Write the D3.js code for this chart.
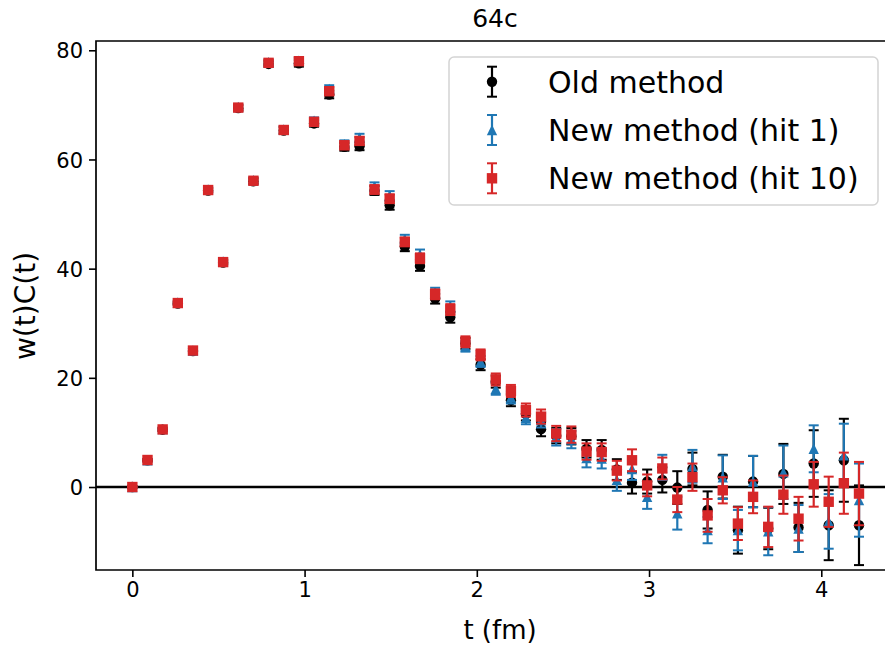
<!DOCTYPE html>
<html>
<head>
<meta charset="utf-8">
<script src="https://cdn.jsdelivr.net/npm/d3@7"></script>
<style>
  body { margin: 0; background: #fff; }
  svg { font-family: "DejaVu Sans", sans-serif; }
</style>
</head>
<body>
<svg id="chart" width="885" height="650"></svg>
<script>
// t (fm) for each timeslice
const tValues = [0, 0.088, 0.176, 0.264, 0.352, 0.440, 0.527, 0.615, 0.703, 0.791,
	0.879, 0.967, 1.055, 1.143, 1.231, 1.319, 1.406, 1.494, 1.582, 1.670,
	1.758, 1.846, 1.934, 2.022, 2.110, 2.198, 2.285, 2.373, 2.461, 2.549,
	2.637, 2.725, 2.813, 2.901, 2.989, 3.077, 3.164, 3.252, 3.340, 3.428,
	3.516, 3.604, 3.692, 3.780, 3.868, 3.956, 4.043, 4.131, 4.219];

// Old method
const oldVal = [0.0, 4.9, 10.5, 33.6, 24.9, 54.3, 41.1, 69.4, 56.0, 77.5,
	65.3, 77.6, 66.6, 71.9, 62.3, 62.4, 54.3, 51.6, 44.0, 40.5,
	34.5, 31.1, 26.3, 22.4, 19.3, 15.9, 13.4, 10.6, 9.4, 9.3,
	7.0, 6.8, 3.2, 0.8, 1.0, 1.3, -0.1, 3.3, -4.2, 1.9,
	-7.9, 1.0, -7.6, 2.4, -7.4, 4.3, -7.0, 4.9, -7.0];
const oldErr = [0.1, 0.2, 0.3, 0.3, 0.4, 0.4, 0.4, 0.5, 0.5, 0.5,
	0.6, 0.6, 0.6, 0.7, 0.7, 0.7, 0.8, 0.8, 0.8, 0.9,
	0.9, 1.0, 1.0, 1.0, 1.1, 1.1, 1.2, 1.3, 1.4, 1.5,
	1.6, 1.8, 1.9, 2.0, 2.2, 2.3, 3.0, 3.0, 3.4, 4.0,
	4.3, 4.7, 3.8, 5.5, 4.5, 6.1, 6.4, 7.6, 7.3];

// New method (hit 1)
const hit1Val = [0.0, 4.9, 10.6, 33.8, 25.0, 54.5, 41.3, 69.6, 56.2, 77.8,
	65.5, 78.1, 67.1, 72.9, 62.8, 64.0, 55.0, 53.4, 45.4, 42.6,
	35.6, 33.0, 25.8, 23.0, 18.0, 16.4, 12.7, 12.2, 9.1, 8.7,
	5.3, 5.2, 1.3, 3.3, -1.8, 3.6, -4.8, 3.8, -7.9, 1.8,
	-7.9, 1.0, -8.1, 2.7, -7.6, 7.0, -6.3, 5.8, -2.4];
const hit1Err = [0.1, 0.2, 0.3, 0.3, 0.4, 0.4, 0.4, 0.5, 0.5, 0.5,
	0.6, 0.6, 0.6, 0.7, 0.7, 0.7, 0.8, 0.8, 0.8, 0.9,
	0.9, 1.0, 1.0, 1.0, 1.1, 1.1, 1.2, 1.3, 1.5, 1.6,
	1.7, 1.8, 2.0, 2.0, 2.2, 2.3, 3.0, 3.0, 2.4, 4.0,
	3.7, 4.7, 4.4, 4.9, 4.3, 4.3, 5.0, 5.8, 6.7];

// New method (hit 10)
const hit10Val = [0.0, 4.95, 10.55, 33.7, 25.0, 54.4, 41.2, 69.5, 56.1, 77.7,
	65.4, 78.0, 66.9, 72.5, 62.6, 63.4, 54.5, 52.8, 44.9, 41.9,
	35.3, 32.5, 26.6, 24.2, 19.7, 17.6, 14.1, 12.9, 9.8, 9.6,
	6.5, 6.4, 3.0, 4.9, 0.3, 3.4, -2.3, 1.8, -5.2, -0.6,
	-6.7, -1.8, -7.3, -1.4, -5.8, 0.5, -2.7, 0.7, -1.2];
const hit10Err = [0.1, 0.2, 0.3, 0.3, 0.4, 0.4, 0.4, 0.5, 0.5, 0.5,
	0.6, 0.6, 0.6, 0.7, 0.7, 0.7, 0.8, 0.8, 0.8, 0.9,
	0.9, 1.0, 1.0, 1.0, 1.1, 1.1, 1.2, 1.3, 1.4, 1.5,
	1.5, 1.6, 1.8, 2.0, 2.0, 2.0, 2.3, 2.5, 3.0, 2.4,
	3.0, 3.0, 3.7, 3.5, 4.0, 4.1, 4.6, 5.6, 5.8];

const xTicks = [0, 1, 2, 3, 4];
const yTicks = [0, 20, 40, 60, 80];

const seriesNames = ["Old method", "New method (hit 1)", "New method (hit 10)"];
const seriesColors = ["#000000", "#1f77b4", "#d62728"];
const seriesShapes = ["circle", "triangle", "square"];
const seriesVals = [oldVal, hit1Val, hit10Val];
const seriesErrs = [oldErr, hit1Err, hit10Err];

const plot = {left: 96, right: 895, top: 41, bottom: 570};
const markerSize = 10.4, capHalf = 5;

const svg = d3.select("#chart");

const xScale = d3.scaleLinear().domain([-0.211, 4.428]).range([plot.left, plot.right]);
const yScale = d3.scaleLinear().domain([-15.2, 81.7]).range([plot.bottom, plot.top]);

// clip for the data area
svg.append("clipPath").attr("id", "clip")
	.append("rect")
	.attr("x", plot.left).attr("y", plot.top)
	.attr("width", plot.right - plot.left).attr("height", plot.bottom - plot.top);

// zero line
svg.append("line")
	.attr("x1", plot.left).attr("x2", plot.right)
	.attr("y1", yScale(0)).attr("y2", yScale(0))
	.attr("stroke", "#000").attr("stroke-width", 2.5);

function markerPath(shape, s) {
	const h = s / 2;
	if (shape === "triangle") return "M0," + (-h) + "L" + h + "," + h + "L" + (-h) + "," + h + "Z";
	if (shape === "square") return "M" + (-h) + "," + (-h) + "h" + s + "v" + s + "h" + (-s) + "Z";
	return d3.arc()({innerRadius: 0, outerRadius: h, startAngle: 0, endAngle: 2 * Math.PI});
}

// draw each series: error bars, caps, markers
const dataG = svg.append("g").attr("clip-path", "url(#clip)");
seriesVals.forEach(function(vals, k) {
	const errs = seriesErrs[k];
	const color = seriesColors[k];
	const rows = vals.map(function(v, i) { return {t: tValues[i], v: v, e: errs[i]}; });
	const g = dataG.append("g").attr("class", "serie");

	g.selectAll("line.bar").data(rows).enter().append("line")
		.attr("class", "bar")
		.attr("x1", function(d) { return xScale(d.t); })
		.attr("x2", function(d) { return xScale(d.t); })
		.attr("y1", function(d) { return yScale(d.v - d.e); })
		.attr("y2", function(d) { return yScale(d.v + d.e); })
		.attr("stroke", color).attr("stroke-width", 2.2);

	[-1, 1].forEach(function(sgn) {
		g.selectAll("line.cap" + sgn).data(rows).enter().append("line")
			.attr("x1", function(d) { return xScale(d.t) - capHalf; })
			.attr("x2", function(d) { return xScale(d.t) + capHalf; })
			.attr("y1", function(d) { return yScale(d.v + sgn * d.e); })
			.attr("y2", function(d) { return yScale(d.v + sgn * d.e); })
			.attr("stroke", color).attr("stroke-width", 2);
	});

	g.selectAll("path.mark").data(rows).enter().append("path")
		.attr("class", "mark")
		.attr("d", markerPath(seriesShapes[k], markerSize))
		.attr("transform", function(d) { return "translate(" + xScale(d.t) + "," + yScale(d.v) + ")"; })
		.attr("fill", color);
});

// axes
const xAxis = d3.axisBottom(xScale).tickValues(xTicks).tickSize(7).tickPadding(5).tickFormat(d3.format("d"));
const yAxis = d3.axisLeft(yScale).tickValues(yTicks).tickSize(7).tickPadding(6).tickFormat(d3.format("d"));

const gx = svg.append("g").attr("transform", "translate(0," + plot.bottom + ")").call(xAxis);
const gy = svg.append("g").attr("transform", "translate(" + plot.left + ",0)").call(yAxis);
[gx, gy].forEach(function(g) {
	g.select(".domain").remove();
	g.selectAll(".tick line").attr("stroke", "#000").attr("stroke-width", 1.6);
	g.selectAll(".tick text").attr("fill", "#000").style("font-size", "21px")
		.style("font-family", "DejaVu Sans");
});
gy.selectAll(".tick text").attr("dy", "0.36em");

// spines (left, top, bottom; right one falls outside the picture)
svg.append("path")
	.attr("d", "M" + plot.right + "," + plot.bottom + "H" + plot.left + "V" + plot.top + "H" + plot.right)
	.attr("fill", "none").attr("stroke", "#000").attr("stroke-width", 1.7);

// title and labels
svg.append("text").attr("x", 495).attr("y", 27).attr("text-anchor", "middle")
	.style("font-size", "25px").text("64c");
svg.append("text").attr("x", 500).attr("y", 639).attr("text-anchor", "middle")
	.style("font-size", "26px").text("t (fm)");
svg.append("text").attr("transform", "translate(35,306) rotate(-90)").attr("text-anchor", "middle")
	.style("font-size", "28px").text("w(t)C(t)");

// legend
const legend = svg.append("g");
legend.append("rect")
	.attr("x", 449).attr("y", 57).attr("width", 429).attr("height", 148)
	.attr("rx", 5).attr("fill", "#fff").attr("fill-opacity", 0.8)
	.attr("stroke", "#d4d4d4").attr("stroke-width", 1.5);
seriesNames.forEach(function(name, k) {
	const cy = 81.7 + k * 48.3, cx = 492;
	const color = seriesColors[k];
	legend.append("line").attr("x1", cx).attr("x2", cx).attr("y1", cy - 15).attr("y2", cy + 15)
		.attr("stroke", color).attr("stroke-width", 2.2);
	[-15, 15].forEach(function(dy) {
		legend.append("line").attr("x1", cx - capHalf).attr("x2", cx + capHalf)
			.attr("y1", cy + dy).attr("y2", cy + dy)
			.attr("stroke", color).attr("stroke-width", 2);
	});
	legend.append("path").attr("d", markerPath(seriesShapes[k], markerSize))
		.attr("transform", "translate(" + cx + "," + cy + ")").attr("fill", color);
	legend.append("text").attr("x", 548).attr("y", cy + 11)
		.style("font-size", "30px").attr("fill", "#000").text(name);
});
</script>
</body>
</html>
